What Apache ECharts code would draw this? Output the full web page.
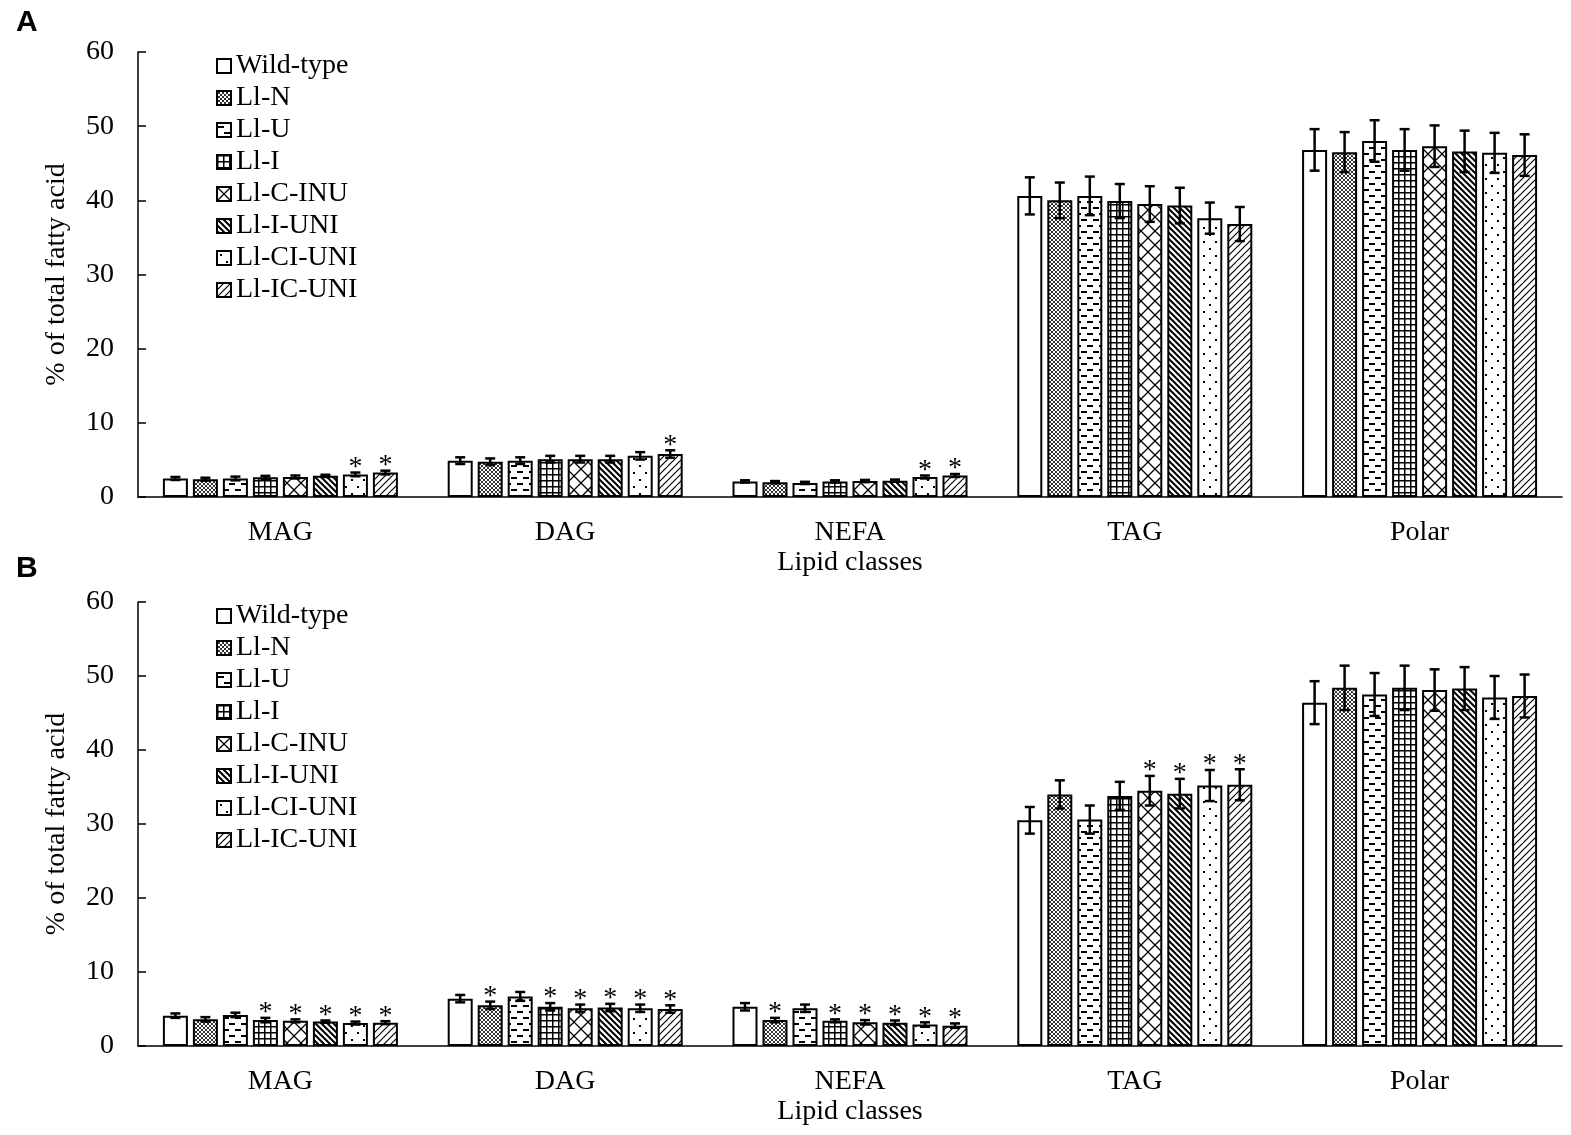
<!DOCTYPE html>
<html>
<head>
<meta charset="utf-8">
<script src="https://cdn.jsdelivr.net/npm/echarts@6/dist/echarts.min.js"></script>
<style>
    html, body { margin: 0; padding: 0; background: #fff; }
    #chart { width: 1571px; height: 1135px; }
</style>
</head>
<body>
<div id="chart"></div>
<script>
    // lipid classes and genotypes
    var categories = ['MAG', 'DAG', 'NEFA', 'TAG', 'Polar'];
    var strains = ['Wild-type', 'Ll-N', 'Ll-U', 'Ll-I', 'Ll-C-INU', 'Ll-I-UNI', 'Ll-CI-UNI', 'Ll-IC-UNI'];
    var yTicks = [0, 10, 20, 30, 40, 50, 60];

    // panel A: rows = strain, columns = lipid class
    var valuesA = [
        [2.5, 4.9, 2.1, 40.6, 46.8],
        [2.4, 4.75, 2.0, 40.0, 46.5],
        [2.5, 4.9, 1.9, 40.6, 48.0],
        [2.65, 5.1, 2.1, 39.9, 46.8],
        [2.7, 5.1, 2.15, 39.5, 47.3],
        [2.85, 5.1, 2.2, 39.3, 46.6],
        [3.05, 5.55, 2.7, 37.6, 46.4],
        [3.3, 5.8, 2.9, 36.8, 46.1]
    ];
    var errorsA = [
        [0.2, 0.45, 0.15, 2.5, 2.8],
        [0.2, 0.45, 0.15, 2.4, 2.7],
        [0.25, 0.45, 0.15, 2.6, 2.8],
        [0.2, 0.45, 0.15, 2.3, 2.8],
        [0.2, 0.45, 0.15, 2.4, 2.8],
        [0.15, 0.45, 0.15, 2.4, 2.8],
        [0.25, 0.5, 0.2, 2.1, 2.7],
        [0.25, 0.5, 0.2, 2.3, 2.8]
    ];
    var starsA = [
        [0, 0, 0, 0, 0],
        [0, 0, 0, 0, 0],
        [0, 0, 0, 0, 0],
        [0, 0, 0, 0, 0],
        [0, 0, 0, 0, 0],
        [0, 0, 0, 0, 0],
        [1, 0, 1, 0, 0],
        [1, 1, 1, 0, 0]
    ];

    // panel B
    var valuesB = [
        [4.1, 6.4, 5.3, 30.5, 46.4],
        [3.6, 5.5, 3.5, 34.0, 48.4],
        [4.2, 6.7, 5.1, 30.6, 47.5],
        [3.5, 5.3, 3.4, 33.8, 48.4],
        [3.4, 5.1, 3.2, 34.5, 48.1],
        [3.3, 5.2, 3.15, 34.1, 48.3],
        [3.1, 5.1, 2.9, 35.2, 47.1],
        [3.15, 5.0, 2.75, 35.3, 47.3]
    ];
    var errorsB = [
        [0.3, 0.5, 0.5, 1.8, 2.9],
        [0.3, 0.5, 0.3, 1.9, 3.0],
        [0.3, 0.6, 0.5, 1.9, 2.9],
        [0.3, 0.5, 0.2, 1.9, 3.0],
        [0.2, 0.5, 0.3, 2.0, 2.8],
        [0.15, 0.5, 0.3, 2.0, 2.9],
        [0.2, 0.5, 0.3, 2.1, 2.9],
        [0.2, 0.5, 0.3, 2.1, 2.9]
    ];
    var starsB = [
        [0, 0, 0, 0, 0],
        [0, 1, 1, 0, 0],
        [0, 0, 0, 0, 0],
        [1, 1, 1, 0, 0],
        [1, 1, 1, 1, 0],
        [1, 1, 1, 1, 0],
        [1, 1, 1, 1, 0],
        [1, 1, 1, 1, 0]
    ];

    var SERIF = '"Liberation Serif", "Times New Roman", serif';
    var FONT_SIZE = 28;
    var BAR_W = 25;
    var BAR_GAP = 0.2;

    // hatch fills, drawn on small tiles
    function pattern(w, h, draw) {
        var c = document.createElement('canvas');
        c.width = w; c.height = h;
        var g = c.getContext('2d');
        g.fillStyle = '#fff';
        g.fillRect(0, 0, w, h);
        g.strokeStyle = '#000';
        g.fillStyle = '#000';
        draw(g, w, h);
        return { image: c, repeat: 'repeat' };
    }
    function slash(g, s) {
        g.beginPath();
        g.moveTo(-1, s + 1); g.lineTo(s + 1, -1);
        g.moveTo(-1, 1); g.lineTo(1, -1);
        g.moveTo(s - 1, s + 1); g.lineTo(s + 1, s - 1);
        g.stroke();
    }
    function backslash(g, s) {
        g.beginPath();
        g.moveTo(-1, -1); g.lineTo(s + 1, s + 1);
        g.moveTo(s - 1, -1); g.lineTo(s + 1, 1);
        g.moveTo(-1, s - 1); g.lineTo(1, s + 1);
        g.stroke();
    }
    var fills = [
        '#fff',
        pattern(4, 4, function (g, s) { g.lineWidth = 1; g.strokeStyle = '#333'; slash(g, s); backslash(g, s); }),
        pattern(12, 12, function (g) { g.fillRect(1, 3, 6, 2); g.fillRect(7, 9, 5, 2); g.fillRect(0, 9, 1, 2); }),
        pattern(6, 6, function (g) { g.fillRect(0, 0, 6, 1.5); g.fillRect(0, 0, 1.5, 6); }),
        pattern(14, 14, function (g, s) { g.lineWidth = 1.3; slash(g, s); backslash(g, s); }),
        pattern(6, 6, function (g, s) { g.lineWidth = 2; backslash(g, s); }),
        pattern(12, 14, function (g) { g.fillRect(3, 3, 2, 2); g.fillRect(9, 10, 2, 2); }),
        pattern(7, 7, function (g, s) { g.lineWidth = 1.2; slash(g, s); })
    ];

    var grids = [
        { left: 138, right: 9, top: 52, height: 445 },
        { left: 138, right: 9, top: 602, height: 444 }
    ];
    var panels = [
        { values: valuesA, errors: errorsA, stars: starsA },
        { values: valuesB, errors: errorsB, stars: starsB }
    ];

    function makeAxes(gi) {
        var x = {
            type: 'category',
            gridIndex: gi,
            data: categories,
            name: 'Lipid classes',
            nameLocation: 'middle',
            nameGap: 52,
            nameTextStyle: { fontFamily: SERIF, fontSize: FONT_SIZE, color: '#000' },
            axisLine: { lineStyle: { color: '#000', width: 1.5 } },
            axisTick: { inside: true, length: 8, lineStyle: { color: '#000', width: 1.5 } },
            axisLabel: { fontFamily: SERIF, fontSize: FONT_SIZE, color: '#000', margin: 22 }
        };
        var y = {
            type: 'value',
            gridIndex: gi,
            min: yTicks[0],
            max: yTicks[yTicks.length - 1],
            interval: yTicks[1] - yTicks[0],
            name: '% of total fatty acid',
            nameLocation: 'middle',
            nameGap: 67,
            nameTextStyle: { fontFamily: SERIF, fontSize: FONT_SIZE, color: '#000' },
            axisLine: { show: true, lineStyle: { color: '#000', width: 1.5 } },
            axisTick: { show: true, inside: true, length: 8, lineStyle: { color: '#000', width: 1.5 } },
            axisLabel: { fontFamily: SERIF, fontSize: FONT_SIZE, color: '#000', margin: 24 },
            splitLine: { show: false }
        };
        return { x: x, y: y };
    }

    var xAxes = [], yAxes = [], series = [], legends = [];
    panels.forEach(function (p, gi) {
        var ax = makeAxes(gi);
        xAxes.push(ax.x);
        yAxes.push(ax.y);
        strains.forEach(function (name, si) {
            series.push({
                type: 'bar',
                name: name,
                xAxisIndex: gi,
                yAxisIndex: gi,
                barWidth: BAR_W,
                barGap: (BAR_GAP * 100) + '%',
                data: p.values[si],
                itemStyle: { color: fills[si], borderColor: '#000', borderWidth: 2 },
                emphasis: { disabled: true },
                z: 2
            });
        });
        // error bars + asterisks
        var errData = [];
        strains.forEach(function (name, si) {
            categories.forEach(function (c, ci) {
                errData.push([ci, si, p.values[si][ci], p.errors[si][ci], p.stars[si][ci]]);
            });
        });
        series.push({
            type: 'custom',
            xAxisIndex: gi,
            yAxisIndex: gi,
            data: errData,
            encode: { x: 0, y: 2 },
            z: 5,
            silent: true,
            renderItem: function (params, api) {
                var ci = api.value(0), si = api.value(1);
                var v = api.value(2), e = api.value(3), star = api.value(4);
                var pitch = BAR_W * (1 + BAR_GAP);
                var cx = api.coord([ci, 0])[0] + (si - (strains.length - 1) / 2) * pitch;
                var top = api.coord([ci, v + e])[1];
                var bot = api.coord([ci, v - e])[1];
                var cap = 5;
                var lineStyle = { stroke: '#000', lineWidth: 2.5 };
                var children = [
                    { type: 'line', shape: { x1: cx, y1: top, x2: cx, y2: bot }, style: lineStyle },
                    { type: 'line', shape: { x1: cx - cap, y1: top, x2: cx + cap, y2: top }, style: lineStyle },
                    { type: 'line', shape: { x1: cx - cap, y1: bot, x2: cx + cap, y2: bot }, style: lineStyle }
                ];
                if (star) {
                    children.push({
                        type: 'text',
                        style: {
                            text: '*', x: cx, y: top + 9,
                            align: 'center', verticalAlign: 'bottom',
                            font: '28px ' + SERIF, fill: '#000'
                        }
                    });
                }
                return { type: 'group', children: children };
            }
        });
        legends.push({
            data: strains,
            orient: 'vertical',
            left: 211,
            top: grids[gi].top - 5,
            itemWidth: 14,
            itemHeight: 14,
            itemGap: 4,
            selectedMode: false,
            icon: 'rect',
            textStyle: { fontFamily: SERIF, fontSize: FONT_SIZE, color: '#000', lineHeight: 28 }
        });
    });

    var myChart = echarts.init(document.getElementById('chart'));
    myChart.setOption({
        backgroundColor: '#fff',
        animation: false,
        graphic: [
            { type: 'text', left: 16, top: 8, style: { text: 'A', font: 'bold 30px "Liberation Sans", Arial, sans-serif', fill: '#000' } },
            { type: 'text', left: 16, top: 554, style: { text: 'B', font: 'bold 30px "Liberation Sans", Arial, sans-serif', fill: '#000' } }
        ],
        legend: legends,
        grid: grids,
        xAxis: xAxes,
        yAxis: yAxes,
        series: series
    });
</script>
</body>
</html>
